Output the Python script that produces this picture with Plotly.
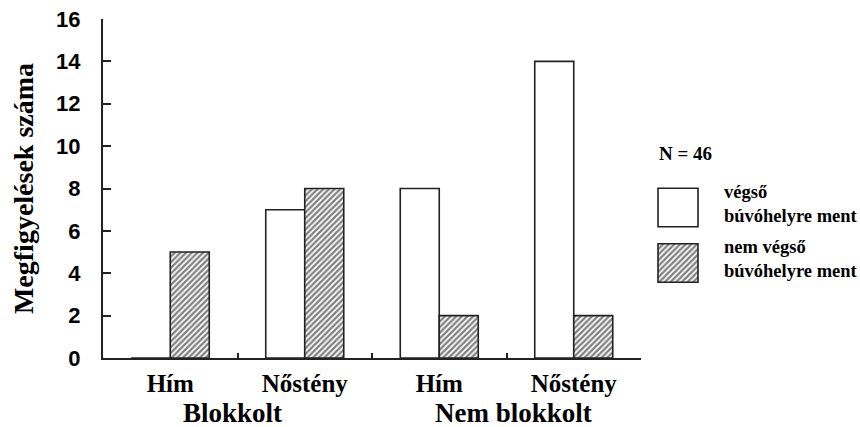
import plotly.graph_objects as go

# ---- data ----
groups = ["Blokkolt", "Nem blokkolt"]
sex_labels = ["Hím", "Nőstény", "Hím", "Nőstény"]
x_pos = [0, 1, 2, 3]
final_refuge = [0, 7, 8, 14]       # végső búvóhelyre ment
not_final_refuge = [5, 8, 2, 2]    # nem végső búvóhelyre ment
series_names = ["végső<br>búvóhelyre ment", "nem végső<br>búvóhelyre ment"]
y_ticks = [0, 2, 4, 6, 8, 10, 12, 14, 16]
legend_key_pos = [1, 0]
legend_key_len = [1, 1]
n_text = "N = 46"

W, H = 860, 427
AX_L, AX_R, AX_T, AX_B = 103, 641, 19, 358   # plot box in pixels
L, R, T, B = AX_L, 0, AX_T, H - AX_B
PW, PH = W - L - R, H - T - B


def px_x(px):
    return (px - L) / PW


def px_y(py):
    return (H - B - py) / PH


SERIF = "Liberation Serif, Times New Roman, serif"
SANS = "Liberation Sans, Arial, sans-serif"
LINE = "#222222"
HATCH = dict(shape="/", fgcolor="black", bgcolor="white", size=4, solidity=0.55)

fig = go.Figure()

fig.add_trace(go.Bar(
    x=x_pos, y=final_refuge, name=series_names[0],
    marker=dict(color="white", line=dict(color=LINE, width=1.6)),
    showlegend=False, xaxis="x", yaxis="y",
))
fig.add_trace(go.Bar(
    x=x_pos, y=not_final_refuge, name=series_names[1],
    marker=dict(color="white", line=dict(color=LINE, width=1.6), pattern=HATCH),
    showlegend=False, xaxis="x", yaxis="y",
))

# legend keys drawn in a small auxiliary subplot
fig.add_trace(go.Bar(
    x=[legend_key_len[0]], y=[legend_key_pos[0]], orientation="h",
    width=0.694, offset=-0.347,
    marker=dict(color="white", line=dict(color=LINE, width=1.6)),
    showlegend=False, xaxis="x2", yaxis="y2", hoverinfo="skip",
))
fig.add_trace(go.Bar(
    x=[legend_key_len[1]], y=[legend_key_pos[1]], orientation="h",
    width=0.694, offset=-0.347,
    marker=dict(color="white", line=dict(color=LINE, width=1.6), pattern=HATCH),
    showlegend=False, xaxis="x2", yaxis="y2", hoverinfo="skip",
))

key_l, key_r = 658, 698
unit = key_r - key_l
fig.update_layout(
    width=W, height=H,
    margin=dict(l=L, r=R, t=T, b=B, pad=0),
    paper_bgcolor="white", plot_bgcolor="white",
    barmode="group", bargap=0.42, bargroupgap=0,
    showlegend=False,
    xaxis=dict(
        domain=[0, px_x(AX_R)], range=[-0.5, 3.5],
        tickmode="array", tickvals=x_pos, ticktext=sex_labels,
        ticks="", showgrid=False, zeroline=False,
        showline=True, linecolor=LINE, linewidth=2,
        tickfont=dict(family=SERIF, size=25, color="black", weight="bold"),
        ticklabelstandoff=2,
        minor=dict(tickmode="array", tickvals=[0.5, 1.5, 2.5], ticks="inside",
                   ticklen=5, tickwidth=1.5, tickcolor=LINE, showgrid=False),
    ),
    yaxis=dict(
        domain=[0, 1], range=[0, 16],
        tickmode="array", tickvals=y_ticks,
        ticks="inside", ticklen=8, tickwidth=1.5, tickcolor=LINE,
        showgrid=False, zeroline=False,
        showline=True, linecolor=LINE, linewidth=2,
        tickfont=dict(family=SANS, size=22, color="black", weight="bold"),
        ticklabelstandoff=16,
        title=dict(text="Megfigyelések száma",
                   font=dict(family=SERIF, size=28, color="black", weight="bold"),
                   standoff=14),
    ),
    xaxis2=dict(
        domain=[px_x(key_l - 0.1 * unit), px_x(key_r + 0.1 * unit)],
        range=[-0.1, 1.1], anchor="y2", visible=False, fixedrange=True,
    ),
    yaxis2=dict(
        domain=[px_y(290.75), px_y(179.75)],
        range=[-0.5, 1.5], anchor="x2", visible=False, fixedrange=True,
    ),
    annotations=[
        dict(text=groups[0], x=0.46, y=px_y(413), xref="x", yref="paper",
             showarrow=False, xanchor="center", yanchor="middle",
             font=dict(family=SERIF, size=27, color="black", weight="bold")),
        dict(text=groups[1], x=2.55, y=px_y(413), xref="x", yref="paper",
             showarrow=False, xanchor="center", yanchor="middle",
             font=dict(family=SERIF, size=27, color="black", weight="bold")),
        dict(text=n_text, x=px_x(657), y=px_y(154), xref="paper", yref="paper",
             showarrow=False, xanchor="left", yanchor="middle",
             font=dict(family=SERIF, size=19, color="black", weight="bold")),
        dict(text=series_names[0], x=px_x(722), y=px_y(204), xref="paper", yref="paper",
             showarrow=False, xanchor="left", yanchor="middle", align="left",
             font=dict(family=SERIF, size=18.5, color="black", weight="bold")),
        dict(text=series_names[1], x=px_x(722), y=px_y(259), xref="paper", yref="paper",
             showarrow=False, xanchor="left", yanchor="middle", align="left",
             font=dict(family=SERIF, size=18.5, color="black", weight="bold")),
    ],
)

# remove the default 8px page margin so the figure sits at the window origin
fig.write_html("out.html",
               config={"displayModeBar": False},
               post_script="document.body.style.margin='0px';")
